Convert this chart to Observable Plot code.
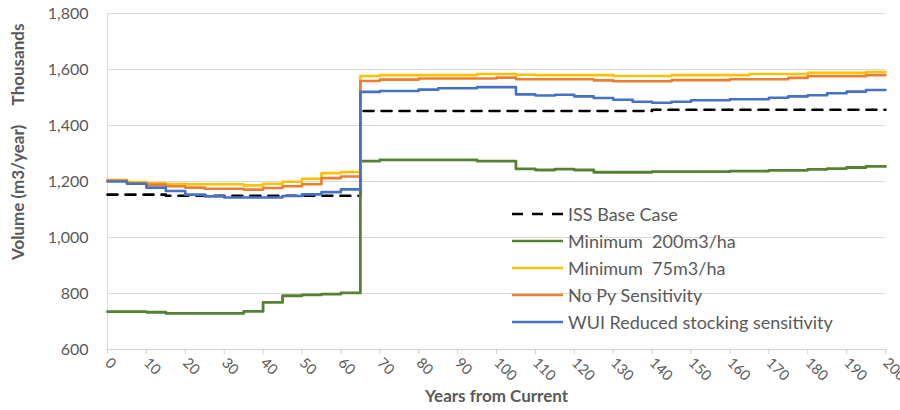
<!DOCTYPE html>
<html>
<head>
<meta charset="utf-8">
<script src="https://cdn.jsdelivr.net/npm/d3@7"></script>
<script src="https://cdn.jsdelivr.net/npm/@observablehq/plot@0.6"></script>
<style>
  html, body { margin: 0; padding: 0; background: #fff; }
  #wrap { position: relative; width: 900px; height: 410px; font-family: Lato, "Open Sans", sans-serif; }
  #legend { position: absolute; left: 512px; top: 200px; color: #595959; font-size: 18px; white-space: pre; }
  #legend .row { display: flex; align-items: center; height: 27px; }
  #legend svg { margin-right: 4px; }
</style>
</head>
<body>
<div id="wrap"></div>
<script>
// Years (step points, every 5 years; last point repeats the final value)
const years = [0,5,10,15,20,25,30,35,40,45,50,55,60,65,70,75,80,85,90,95,100,105,110,115,120,125,130,135,140,145,150,155,160,165,170,175,180,185,190,195,200];

const seriesNames = ["ISS Base Case", "Minimum  200m3/ha", "Minimum  75m3/ha", "No Py Sensitivity", "WUI Reduced stocking sensitivity"];
const seriesColors = ["#000000", "#548235", "#FFC000", "#ED7D31", "#4472C4"];

const issBase = [1153,1153,1153,1149,1149,1149,1149,1149,1149,1149,1149,1149,1149,
  1452,1452,1452,1452,1452,1452,1452,1452,1452,1452,1452,1452,1452,1452,1452,
  1456,1456,1456,1456,1456,1456,1456,1456,1456,1456,1456,1456,1456];
const min200 = [735,735,733,729,729,729,729,736,768,792,795,798,802,
  1273,1277,1277,1277,1277,1277,1273,1273,1245,1241,1244,1241,1233,1233,1233,
  1235,1235,1235,1235,1237,1237,1240,1240,1243,1246,1250,1254,1254];
const min75 = [1205,1198,1194,1191,1190,1190,1190,1186,1192,1199,1210,1230,1234,
  1577,1580,1580,1580,1580,1580,1584,1584,1581,1580,1580,1580,1580,1577,1577,
  1577,1580,1580,1580,1580,1584,1584,1584,1588,1588,1588,1591,1591];
const noPy = [1203,1194,1189,1183,1178,1174,1174,1171,1177,1183,1190,1212,1218,
  1559,1564,1564,1568,1568,1568,1568,1571,1565,1565,1565,1565,1561,1558,1558,
  1558,1562,1562,1562,1565,1565,1565,1570,1576,1576,1576,1580,1580];
const wui = [1200,1192,1178,1166,1153,1147,1143,1143,1143,1148,1154,1162,1172,
  1520,1523,1523,1528,1533,1533,1537,1537,1511,1507,1510,1504,1498,1492,1485,
  1481,1485,1490,1490,1494,1494,1499,1504,1508,1515,1521,1527,1527];

const yTicks = [600,800,1000,1200,1400,1600,1800];
const xTicks = [0,10,20,30,40,50,60,70,80,90,100,110,120,130,140,150,160,170,180,190,200];

const allValues = [issBase, min200, min75, noPy, wui];
const rows = [];
allValues.forEach((vals, s) => vals.forEach((v, i) => rows.push({series: seriesNames[s], year: years[i], value: v})));

const lineMark = (name, color, extra = {}) => Plot.line(rows.filter(d => d.series === name), {
  x: "year", y: "value", curve: "step-after", stroke: color, strokeWidth: 2.6, ...extra
});

const chart = Plot.plot({
  width: 900,
  height: 410,
  marginLeft: 107,
  marginRight: 15,
  marginTop: 13,
  marginBottom: 61,
  style: {fontFamily: "Lato, 'Open Sans', sans-serif", fontSize: "16px", color: "#595959", background: "#fff"},
  x: {domain: [0, 200]},
  y: {domain: [600, 1800]},
  marks: [
    Plot.gridY(yTicks.slice(1), {stroke: "#d9d9d9", strokeOpacity: 1, strokeWidth: 1}),
    Plot.ruleX([0], {stroke: "#d9d9d9"}),
    Plot.ruleY([600], {stroke: "#d0d0d0"}),
    Plot.axisY(yTicks, {tickSize: 0, tickPadding: 19, tickFormat: d3.format(","), label: null, fill: "#595959", fontSize: 16}),
    Plot.axisX(xTicks, {tickSize: 5, stroke: "#d0d0d0", tickRotate: 45, tickPadding: 6, label: null, fill: "#595959", fontSize: 14.5}),
    Plot.text(["Years from Current"], {frameAnchor: "bottom", dy: 52, fontWeight: "bold", fill: "#595959", fontSize: 17}),
    Plot.text(["Volume (m3/year)"], {frameAnchor: "left", textAnchor: "middle", rotate: -90, dx: -89, dy: 11, fontWeight: "bold", fill: "#595959", fontSize: 17}),
    Plot.text(["Thousands"], {frameAnchor: "left", textAnchor: "middle", rotate: -90, dx: -89, dy: -117, fontWeight: "bold", fill: "#595959", fontSize: 17}),
    lineMark(seriesNames[0], seriesColors[0], {strokeDasharray: "10,8", strokeWidth: 2.6}),
    lineMark(seriesNames[1], seriesColors[1], {strokeWidth: 2.8}),
    lineMark(seriesNames[2], seriesColors[2]),
    lineMark(seriesNames[3], seriesColors[3]),
    lineMark(seriesNames[4], seriesColors[4])
  ]
});

const wrap = document.getElementById("wrap");
wrap.appendChild(chart);

const legend = document.createElement("div");
legend.id = "legend";
seriesNames.forEach((name, i) => {
  const row = document.createElement("div");
  row.className = "row";
  const dash = i === 0 ? ' stroke-dasharray="11,9"' : '';
  row.innerHTML = `<svg width="52" height="6"><line x1="0" y1="3" x2="51" y2="3" stroke="${seriesColors[i]}" stroke-width="2.6"${dash}/></svg><span>${name}</span>`;
  legend.appendChild(row);
});
wrap.appendChild(legend);
</script>
</body>
</html>
